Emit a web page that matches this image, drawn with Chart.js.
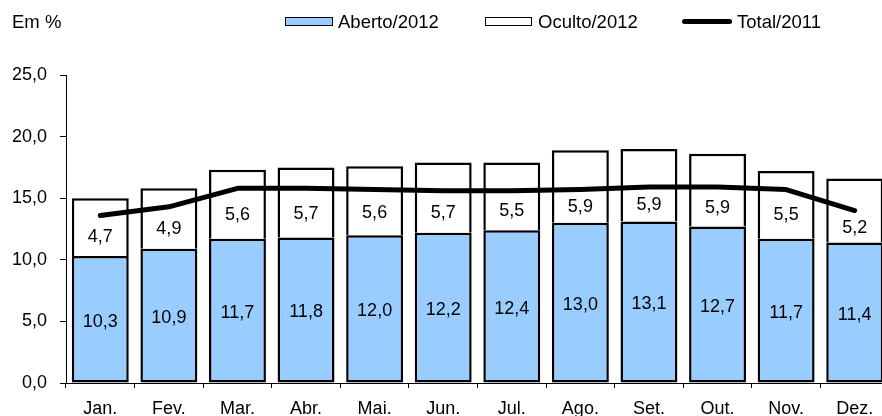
<!DOCTYPE html>
<html>
<head>
<meta charset="utf-8">
<script src="https://cdn.jsdelivr.net/npm/chart.js@4.4.1/dist/chart.umd.min.js"></script>
<style>
  html, body { margin: 0; padding: 0; background: #fff; overflow: hidden; width: 882px; height: 416px; }
  #wrap { position: relative; width: 892px; height: 430px; }
  #c { position: absolute; left: 0; top: 0; }
  .lg { position: absolute; font-family: "Liberation Sans", Arial, sans-serif; font-size: 18.5px; color: #000; line-height: 18px; white-space: nowrap; }
  .box { position: absolute; box-sizing: border-box; }
</style>
</head>
<body>
<div id="wrap">
  <canvas id="c" width="892" height="430"></canvas>
  <div class="lg" style="left:12px; top:13px;">Em %</div>
  <div class="box" style="left:285px; top:17px; width:48px; height:8.5px; background:#99CCFF; border:1.5px solid #000;"></div>
  <div class="lg" style="left:338px; top:13px;">Aberto/2012</div>
  <div class="box" style="left:485px; top:17px; width:47px; height:8.5px; background:#fff; border:1.5px solid #000;"></div>
  <div class="lg" style="left:538px; top:13px;">Oculto/2012</div>
  <div class="box" style="left:682px; top:18.5px; width:50px; height:5px; background:#000; border-radius:2.5px;"></div>
  <div class="lg" style="left:737px; top:13px;">Total/2011</div>
</div>
<script>
const categories = ["Jan.", "Fev.", "Mar.", "Abr.", "Mai.", "Jun.", "Jul.", "Ago.", "Set.", "Out.", "Nov.", "Dez."];
const aberto2012 = [10.3, 10.9, 11.7, 11.8, 12.0, 12.2, 12.4, 13.0, 13.1, 12.7, 11.7, 11.4];
const oculto2012 = [4.7, 4.9, 5.6, 5.7, 5.6, 5.7, 5.5, 5.9, 5.9, 5.9, 5.5, 5.2];
const total2011 = [13.6, 14.3, 15.8, 15.8, 15.7, 15.6, 15.6, 15.7, 15.9, 15.9, 15.7, 14.0];
const yTicks = [0, 5, 10, 15, 20, 25];

const FONT = "Liberation Sans";
const fmt = v => v.toFixed(1).replace('.', ',');

const labelPlugin = {
  id: 'barLabels',
  afterDatasetsDraw(chart) {
    const ctx = chart.ctx;
    const y = chart.scales.y;
    const metaA = chart.getDatasetMeta(1);
    ctx.save();
    ctx.font = "18px '" + FONT + "'";
    ctx.fillStyle = '#000';
    ctx.textAlign = 'center';
    ctx.textBaseline = 'middle';
    metaA.data.forEach((bar, i) => {
      const x = bar.x;
      const ya = y.getPixelForValue(aberto2012[i] / 2) + 2;
      ctx.fillText(fmt(aberto2012[i]), x, ya);
      const yo = y.getPixelForValue((aberto2012[i] + total2011[i]) / 2) + 1;
      ctx.fillText(fmt(oculto2012[i]), x, yo);
    });
    ctx.restore();
  }
};

new Chart(document.getElementById('c'), {
  data: {
    labels: categories,
    datasets: [
      {
        type: 'line', label: 'Total/2011', data: total2011,
        borderColor: '#000', backgroundColor: '#000', borderWidth: 5,
        pointRadius: 0, tension: 0, borderCapStyle: 'round', borderJoinStyle: 'round',
        order: 0, stack: 'line'
      },
      {
        type: 'bar', label: 'Aberto/2012', data: aberto2012,
        backgroundColor: '#99CCFF', borderColor: '#000', borderWidth: 2.5,
        borderSkipped: false, order: 1, stack: 's',
        barPercentage: 0.83, categoryPercentage: 1.0
      },
      {
        type: 'bar', label: 'Oculto/2012', data: oculto2012,
        backgroundColor: '#FFFFFF', borderColor: '#000',
        borderWidth: { top: 2.5, left: 2.5, right: 2.5, bottom: 0 },
        borderSkipped: false, order: 2, stack: 's',
        barPercentage: 0.83, categoryPercentage: 1.0
      }
    ]
  },
  options: {
    responsive: false,
    animation: false,
    devicePixelRatio: 1,
    layout: { padding: { top: 75, right: 3, left: 0, bottom: 0 } },
    plugins: { legend: { display: false }, tooltip: { enabled: false } },
    scales: {
      x: {
        stacked: true,
        grid: { display: true, drawOnChartArea: false, drawTicks: true, tickLength: 5, color: '#000', offset: true, lineWidth: 1 },
        border: { display: true, color: '#000', width: 1 },
        ticks: { color: '#000', font: { family: FONT, size: 18 }, padding: 10, maxRotation: 0, autoSkip: false },
        afterFit(s) { s.height = 47; }
      },
      y: {
        stacked: true,
        min: 0, max: 25,
        afterBuildTicks(s) { s.ticks = yTicks.map(v => ({ value: v })); },
        grid: { display: true, drawOnChartArea: false, drawTicks: true, tickLength: 6, color: '#000', lineWidth: 1 },
        border: { display: true, color: '#000', width: 1 },
        ticks: { color: '#000', font: { family: FONT, size: 18 }, padding: 13, callback: v => fmt(v) },
        afterFit(s) { s.width = 66; }
      }
    }
  },
  plugins: [labelPlugin]
});
</script>
</body>
</html>
